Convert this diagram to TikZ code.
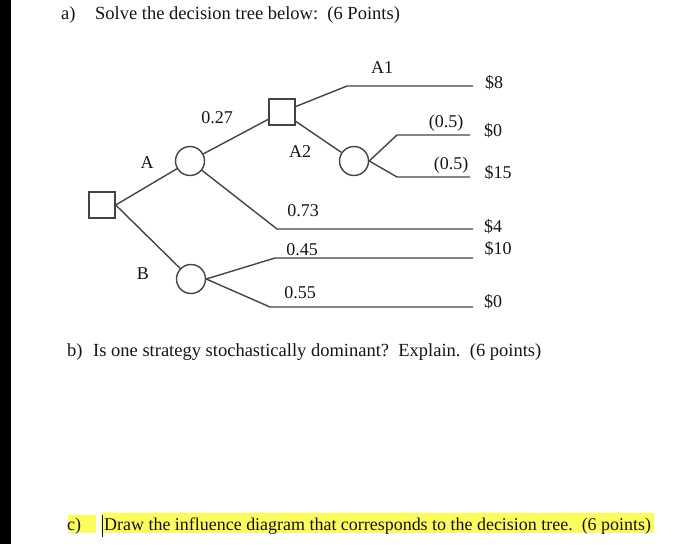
\documentclass[tikz,border=0pt]{standalone}
\usepackage{fontspec}
\setmainfont{Liberation Serif}
\usetikzlibrary{positioning}
\definecolor{treegray}{HTML}{444444}
\definecolor{inkblack}{HTML}{151515}
\definecolor{hlyellow}{HTML}{FCFC5E}
\tikzset{decision/.style={draw=treegray, line width=1.4pt, minimum size=26pt, inner sep=0pt}}
\tikzset{chance/.style={draw=treegray, line width=1.4pt, circle, minimum size=29pt, inner sep=0pt}}
\tikzset{connect/.style={draw=treegray, line width=1.4pt}}
\tikzset{lbl/.style={inner sep=0pt, text=inkblack, font=\fontsize{18}{20}\selectfont}}
\tikzset{txt/.style={inner sep=0pt, anchor=base west, text=inkblack, font=\fontsize{18.5}{22}\selectfont}}

\begin{document}
\begin{tikzpicture}[x=1pt,y=-1pt]

\useasboundingbox (0,0) rectangle (700,544);
\fill[white] (0,0) rectangle (700,544);
\fill[black] (0,0) rectangle (11,544);

%questions
\node[txt] (qa) at (61,19) {a)};
\node[txt] (qatext) at (95,19) {Solve the decision tree below:\ \ (6 Points)};
\node[txt] (qb) at (67,356) {b)};
\node[txt] (qbtext) at (93,356) {Is one strategy stochastically dominant?\ \ Explain.\ \ (6 points)};
\fill[hlyellow] (68,515) rectangle (96,533);
\fill[hlyellow] (101,513) rectangle (654,533);
\draw[inkblack, line width=0.8pt] (102,515) -- (102,537);
\node[txt, font=\fontsize{18}{22}\selectfont] (qc) at (67,530) {c)};
\node[txt, font=\fontsize{17.95}{22}\selectfont] (qctext) at (104,530) {Draw the influence diagram that corresponds to the decision tree.\ \ (6 points)};

%root
\node[decision] (root) at (102,205) {};

%alternative A
\node[chance] (chA) at (190,161) {};
\node[decision] (decA) at (282,112) {};
\node[chance] (chA2) at (354,161) {};
\coordinate (a1) at (347,86);
\coordinate (a1end) at (473,86);
\coordinate (a2up) at (397,135);
\coordinate (a2upend) at (470,135);
\coordinate (a2down) at (397,177);
\coordinate (a2downend) at (470,177);
\coordinate (a73) at (277,229);
\coordinate (a73end) at (473,229);
\path[connect] (root.east) -- (chA);
\path[connect] (chA) -- (decA);
\path[connect] (decA) -- (a1) -- (a1end);
\path[connect] (decA) -- (chA2);
\path[connect] (chA2.east) -- (a2up) -- (a2upend);
\path[connect] (chA2.east) -- (a2down) -- (a2downend);
\path[connect] (chA) -- (a73) -- (a73end);

%alternative B
\node[chance] (chB) at (191,279) {};
\coordinate (b45) at (275,258);
\coordinate (b45end) at (473,258);
\coordinate (b55) at (270,307);
\coordinate (b55end) at (473,307);
\path[connect] (root.east) -- (chB);
\path[connect] (chB.east) -- (b45) -- (b45end);
\path[connect] (chB.east) -- (b55) -- (b55end);

%labels
\node[lbl] (lA) at (147,163) {A};
\node[lbl] (l27) at (217,118) {0.27};
\node[lbl] (lA1) at (382,68) {A1};
\node[lbl] (lA2) at (300,152) {A2};
\node[lbl] (lp1) at (446,123) {(0.5)};
\node[lbl] (lp2) at (451,165) {(0.5)};
\node[lbl] (l73) at (303,211) {0.73};
\node[lbl] (lB) at (143,274) {B};
\node[lbl] (l45) at (302,250) {0.45};
\node[lbl] (l55) at (300,293) {0.55};

%payoffs
\node[lbl] (v8) at (494,83) {\$8};
\node[lbl] (v0a) at (493,131) {\$0};
\node[lbl] (v15) at (498,173) {\$15};
\node[lbl] (v4) at (493,227) {\$4};
\node[lbl] (v10) at (498,249) {\$10};
\node[lbl] (v0b) at (493,302) {\$0};

\end{tikzpicture}
\end{document}
